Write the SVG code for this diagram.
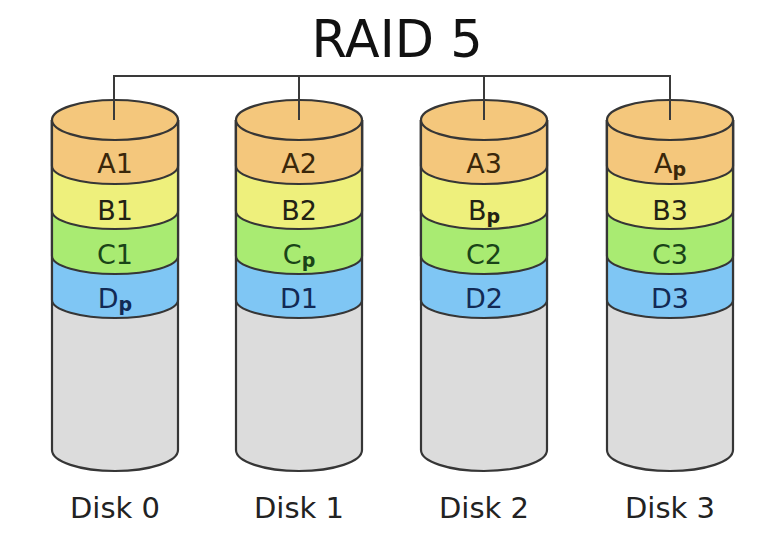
<svg xmlns="http://www.w3.org/2000/svg" width="774" height="553" viewBox="0 0 774 553">
<style>
.t{font-family:"DejaVu Sans",Verdana,sans-serif;text-anchor:middle}
.lbl{font-size:27px}
.sub{font-size:19px;font-weight:bold}
.dl{font-size:29px;fill:#222}
.ol{stroke:#3a3a3a;stroke-width:2;fill:none}
.g{fill:#dcdcdc}.d{fill:#7fc6f4}.c{fill:#a9eb72}.b{fill:#eef07c}.a{fill:#f4c77c}
.ta{fill:#3a270a}.tb{fill:#222214}.tc{fill:#1a4418}.td{fill:#122a55}
.band{stroke:#363636;stroke-width:2.2}
</style>
<defs>
<g id="cyl">
<path class="g band" d="M-63,120 V450 A63,21 0 0 0 63,450 V120"/>
<path class="d band" d="M-63,120 V300 A63,18 0 0 0 63,300 V120"/>
<path class="c band" d="M-63,120 V256 A63,18 0 0 0 63,256 V120"/>
<path class="b band" d="M-63,120 V211 A63,18 0 0 0 63,211 V120"/>
<path class="a band" d="M-63,120 V166 A63,18 0 0 0 63,166 V120"/>
<ellipse class="a band" cx="0" cy="120" rx="63" ry="20"/>
</g>
</defs>
<text class="t" x="397" y="57" font-size="51" fill="#111">RAID 5</text>
<g id="disk0" transform="translate(115,0)">
<use href="#cyl"/>
<text class="t lbl ta" x="0" y="173">A1</text>
<text class="t lbl tb" x="0" y="220">B1</text>
<text class="t lbl tc" x="0" y="264">C1</text>
<text class="t lbl td" x="0" y="308">D<tspan class="sub" dy="3">p</tspan></text>
<text class="t dl" x="0" y="518">Disk 0</text>
</g>
<g id="disk1" transform="translate(299,0)">
<use href="#cyl"/>
<text class="t lbl ta" x="0" y="173">A2</text>
<text class="t lbl tb" x="0" y="220">B2</text>
<text class="t lbl tc" x="0" y="264">C<tspan class="sub" dy="3">p</tspan></text>
<text class="t lbl td" x="0" y="308">D1</text>
<text class="t dl" x="0" y="518">Disk 1</text>
</g>
<g id="disk2" transform="translate(484,0)">
<use href="#cyl"/>
<text class="t lbl ta" x="0" y="173">A3</text>
<text class="t lbl tb" x="0" y="220">B<tspan class="sub" dy="3">p</tspan></text>
<text class="t lbl tc" x="0" y="264">C2</text>
<text class="t lbl td" x="0" y="308">D2</text>
<text class="t dl" x="0" y="518">Disk 2</text>
</g>
<g id="disk3" transform="translate(670,0)">
<use href="#cyl"/>
<text class="t lbl ta" x="0" y="173">A<tspan class="sub" dy="3">p</tspan></text>
<text class="t lbl tb" x="0" y="220">B3</text>
<text class="t lbl tc" x="0" y="264">C3</text>
<text class="t lbl td" x="0" y="308">D3</text>
<text class="t dl" x="0" y="518">Disk 3</text>
</g>
<g id="connectors" class="ol">
<path d="M114,120 V76 H670 V120 M299,76 V120 M484,76 V120"/>
</g>
</svg>
